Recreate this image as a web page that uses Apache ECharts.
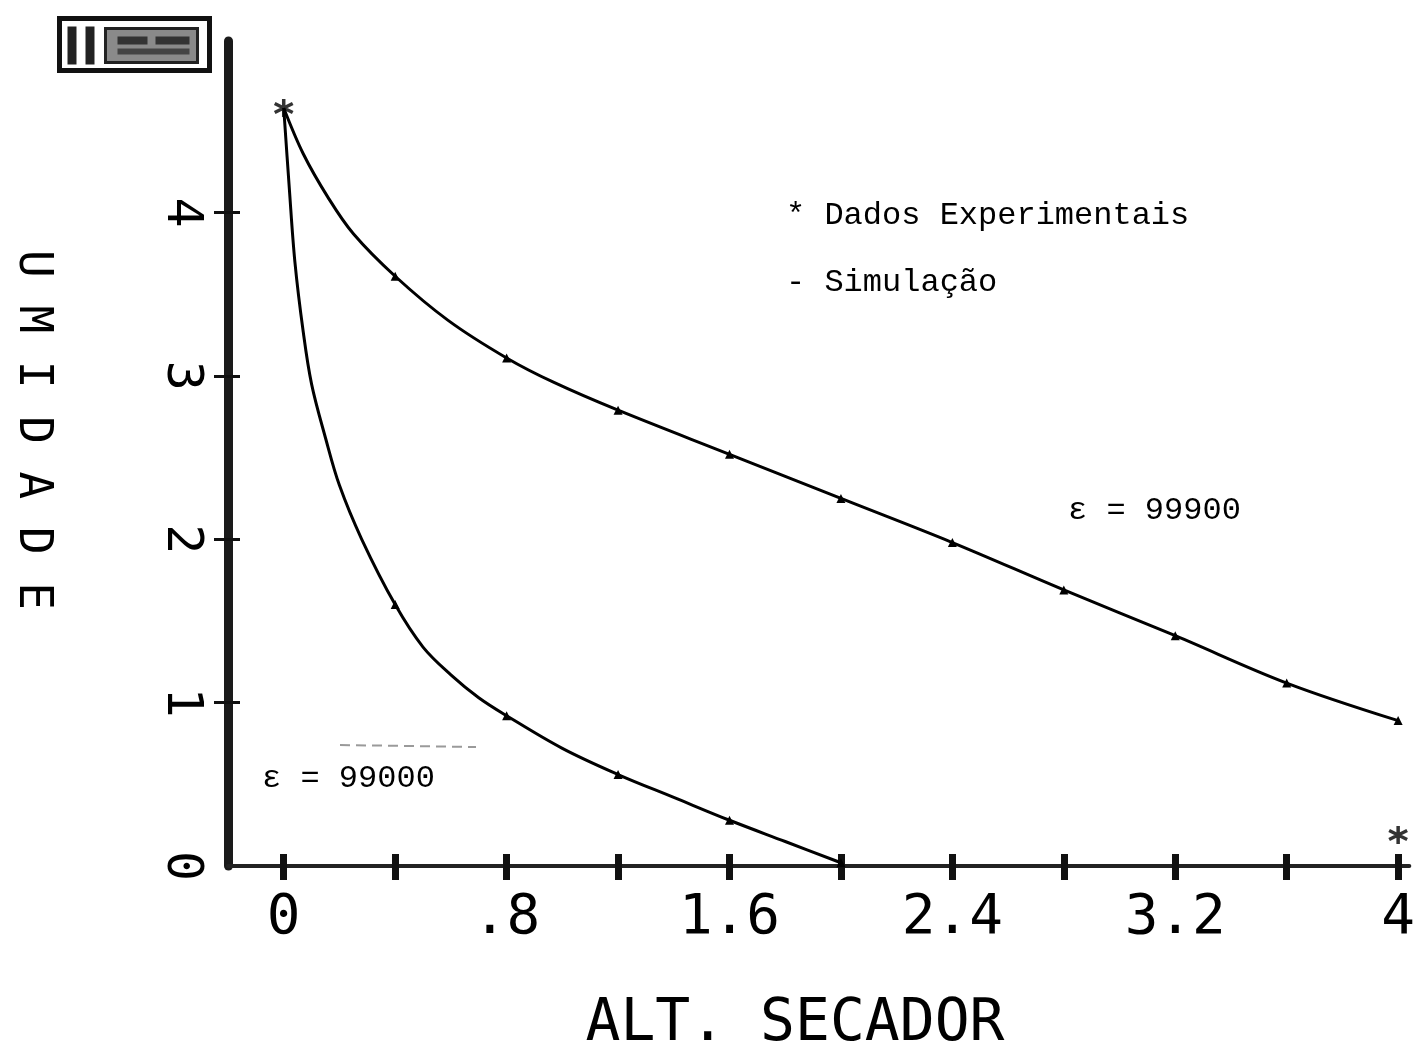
<!DOCTYPE html>
<html>
<head>
<meta charset="utf-8">
<script src="https://cdn.jsdelivr.net/npm/echarts@6/dist/echarts.min.js"></script>
<style>
  html, body { margin: 0; padding: 0; background: #fff; }
  #chart { width: 1418px; height: 1057px; }
</style>
</head>
<body>
<div id="chart"></div>
<script>
// Axis ticks and labels
const xTickValues = [0, 0.4, 0.8, 1.2, 1.6, 2.0, 2.4, 2.8, 3.2, 3.6, 4.0];
const xLabelValues = [0, 0.8, 1.6, 2.4, 3.2, 4.0];
const yTickValues = [1, 2, 3, 4];
const yLabelValues = [0, 1, 2, 3, 4];

// Simulated moisture profile, epsilon = 99900
const simX99900 = [0, 0.07, 0.16, 0.25, 0.4, 0.59, 0.8, 0.97, 1.2, 1.6, 2.0, 2.4, 2.8, 3.2, 3.6, 4.0];
const simY99900 = [4.64, 4.36, 4.09, 3.87, 3.61, 3.34, 3.11, 2.96, 2.79, 2.52, 2.25, 1.98, 1.69, 1.41, 1.12, 0.89];

// Simulated moisture profile, epsilon = 99000
const simX99000 = [0, 0.02, 0.04, 0.07, 0.1, 0.15, 0.2, 0.28, 0.4, 0.5, 0.6, 0.7, 0.8, 1.0, 1.2, 1.4, 1.6, 1.8, 2.0];
const simY99000 = [4.64, 4.15, 3.70, 3.27, 2.95, 2.62, 2.33, 2.00, 1.60, 1.34, 1.17, 1.03, 0.92, 0.72, 0.56, 0.42, 0.28, 0.15, 0.02];

// Experimental data
const expX = [0, 4.0];
const expY = [4.64, 0.19];

const MONO = "'DejaVu Sans Mono', monospace";

// a marker is drawn at every simulation node on the 0.4 grid (except x = 0)
function onGrid(x) {
  const k = x / 0.4;
  return x > 0 && Math.abs(k - Math.round(k)) < 1e-6;
}
function simData(xs, ys) {
  return xs.map((x, i) => ({
    value: [x, ys[i]],
    symbol: onGrid(x) ? 'triangle' : 'none',
    symbolSize: onGrid(x) ? 9 : 0
  }));
}

const asterisk = 'path://M0,-6L0,6M-5.2,-3L5.2,3M-5.2,3L5.2,-3';

const chart = echarts.init(document.getElementById('chart'), null, { renderer: 'canvas' });

const baseX = {
  type: 'value', min: -0.2, max: 4.04, position: 'bottom',
  splitLine: { show: false },
  axisLine: { show: false }
};
const baseY = {
  type: 'value', min: 0, max: 5.05, position: 'left',
  splitLine: { show: false },
  axisLine: { show: false, onZero: false }
};

chart.setOption({
  animation: false,
  backgroundColor: '#ffffff',
  grid: { left: 228, right: 8, top: 41, bottom: 191, containLabel: false },
  xAxis: [
    Object.assign({}, baseX, {
      axisLine: { show: true, onZero: true, lineStyle: { color: '#222', width: 4 } },
      axisTick: { show: true, inside: false, length: 14, customValues: xTickValues,
                  lineStyle: { color: '#111', width: 7 } },
      axisLabel: { show: true, customValues: xLabelValues, margin: 24,
                   fontFamily: MONO, fontSize: 56, color: '#000',
                   formatter: v => (v > 0 && v < 1) ? String(v).replace(/^0/, '') : String(v) }
    }),
    Object.assign({}, baseX, {
      axisTick: { show: true, inside: true, length: 12, customValues: xTickValues,
                  lineStyle: { color: '#111', width: 7 } },
      axisLabel: { show: false }
    })
  ],
  yAxis: [
    Object.assign({}, baseY, {
      axisLine: { show: true, onZero: false, lineStyle: { color: '#1a1a1a', width: 9 } },
      axisTick: { show: true, inside: false, length: 14, customValues: yTickValues,
                  lineStyle: { color: '#111', width: 3 } },
      axisLabel: { show: true, customValues: yLabelValues, rotate: -90, margin: 22,
                   fontFamily: MONO, fontSize: 50, color: '#000' }
    }),
    Object.assign({}, baseY, {
      axisTick: { show: true, inside: true, length: 12, customValues: yTickValues,
                  lineStyle: { color: '#111', width: 3 } },
      axisLabel: { show: false }
    })
  ],
  series: [
    {
      name: 'ε = 99900', type: 'line', smooth: 0.35,
      data: simData(simX99900, simY99900),
      showSymbol: true,
      lineStyle: { color: '#000', width: 3 },
      itemStyle: { color: '#000' },
      z: 3
    },
    {
      name: 'ε = 99000', type: 'line', smooth: 0.35,
      data: simData(simX99000, simY99000),
      showSymbol: true,
      lineStyle: { color: '#000', width: 3 },
      itemStyle: { color: '#000' },
      z: 3
    },
    {
      name: 'Dados Experimentais', type: 'scatter',
      data: expX.map((x, i) => [x, expY[i]]),
      symbol: asterisk, symbolSize: 18,
      itemStyle: { color: 'rgba(0,0,0,0)', borderColor: '#000', borderWidth: 3.5 },
      z: 4
    }
  ],
  graphic: [
    // plotter header block
    {
      type: 'group', left: 57, top: 16,
      children: [
        { type: 'rect', shape: { x: 0, y: 0, width: 150, height: 52 },
          style: { fill: '#fff', stroke: '#111', lineWidth: 5 } },
        { type: 'rect', shape: { x: 8, y: 8, width: 9, height: 38 }, style: { fill: '#222' } },
        { type: 'rect', shape: { x: 26, y: 8, width: 9, height: 38 }, style: { fill: '#222' } },
        { type: 'rect', shape: { x: 46, y: 10, width: 92, height: 34 },
          style: { fill: '#8a8a8a', stroke: '#222', lineWidth: 3 } },
        { type: 'rect', shape: { x: 58, y: 18, width: 30, height: 8 }, style: { fill: '#333' } },
        { type: 'rect', shape: { x: 96, y: 18, width: 34, height: 8 }, style: { fill: '#333' } },
        { type: 'rect', shape: { x: 58, y: 30, width: 72, height: 6 }, style: { fill: '#444' } }
      ]
    },
    // y-axis title
    {
      type: 'text', x: 32, y: 430, rotation: -Math.PI / 2,
      style: { text: 'U M I D A D E', font: "46px 'DejaVu Sans Mono', monospace",
               fill: '#000', textAlign: 'center', textVerticalAlign: 'middle' }
    },
    // x-axis title
    {
      type: 'text', x: 795, y: 1025,
      style: { text: 'ALT. SECADOR', font: "58px 'DejaVu Sans Mono', monospace",
               fill: '#000', textAlign: 'center', textVerticalAlign: 'middle' }
    },
    // key
    {
      type: 'text', x: 786, y: 216,
      style: { text: '* Dados Experimentais', font: "32px 'Liberation Mono', monospace",
               fill: '#000', textAlign: 'left', textVerticalAlign: 'middle' }
    },
    {
      type: 'text', x: 786, y: 283,
      style: { text: '- Simulação', font: "32px 'Liberation Mono', monospace",
               fill: '#000', textAlign: 'left', textVerticalAlign: 'middle' }
    },
    // curve annotations
    {
      type: 'text', x: 1068, y: 511,
      style: { text: 'ε = 99900', font: "32px 'Liberation Mono', monospace",
               fill: '#000', textAlign: 'left', textVerticalAlign: 'middle' }
    },
    {
      type: 'text', x: 262, y: 779,
      style: { text: 'ε = 99000', font: "32px 'Liberation Mono', monospace",
               fill: '#000', textAlign: 'left', textVerticalAlign: 'middle' }
    },
    {
      type: 'line', shape: { x1: 340, y1: 745, x2: 476, y2: 747 },
      style: { stroke: '#9a9a9a', lineWidth: 2, lineDash: [10, 6] }
    }
  ]
});
</script>
</body>
</html>
